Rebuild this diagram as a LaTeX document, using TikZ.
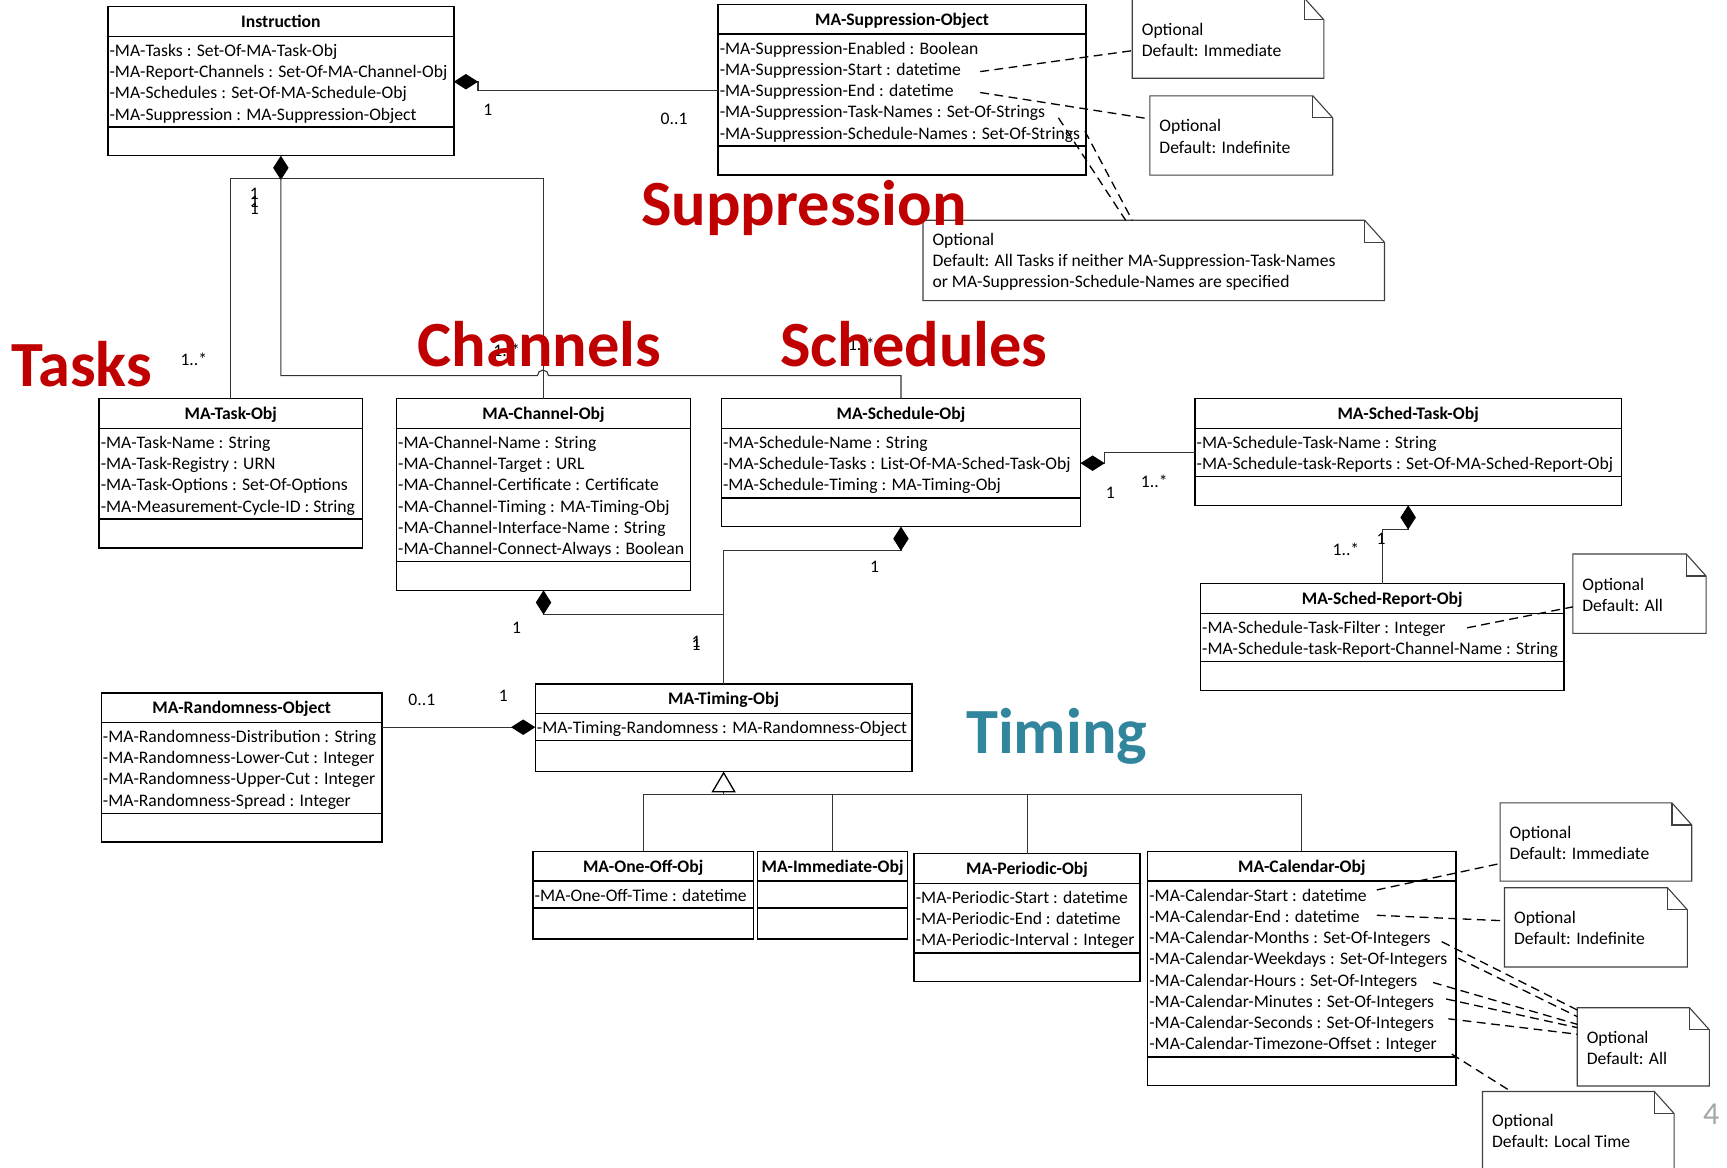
\documentclass[tikz,border=0pt]{standalone}
\usepackage{fontspec}
\setmainfont{Carlito}
\usetikzlibrary{arrows.meta,positioning}
\definecolor{hdr}{HTML}{C00000}
\definecolor{tmg}{HTML}{31859C}
\definecolor{pgn}{HTML}{A6A6A6}
\definecolor{nln}{HTML}{404040}
\newcommand{\clsfont}{\fontsize{16}{19.3}\selectfont}
\newcommand{\bigfont}{\fontsize{58.5}{60}\selectfont\bfseries}
\newcommand{\rows}[1]{\begin{tabular}{@{}l@{}}#1\end{tabular}}
\tikzset{
  clshead/.style={draw,line width=1.3pt,outer sep=0pt,inner sep=0pt,minimum height=27pt,text height=14pt,text depth=3pt,font=\clsfont\bfseries,anchor=north west},
  clsattr/.style={draw,line width=1.3pt,outer sep=0pt,inner xsep=1.5pt,inner ysep=0.6pt,font=\clsfont},
  clsfoot/.style={draw,line width=1.3pt,outer sep=0pt,inner sep=0pt,minimum height=26pt},
  notebox/.style={anchor=north west,inner sep=0pt,outer sep=0pt},
  noteout/.style={draw=nln,line width=1pt},
  notetext/.style={anchor=north west,inner sep=0pt,font=\clsfont},
  mult/.style={font=\clsfont,inner sep=0pt},
  conn/.style={line width=1pt,draw=black!80},
  comp/.style={conn,{Diamond[length=22pt,width=14pt,color=black]}-},
  gen/.style={conn,-{Triangle[open,length=19pt,width=22pt,line width=1.2pt,color=black]}},
  noteln/.style={line width=1.2pt,dash pattern=on 8pt off 5pt},
  lbl/.style={font=\bigfont,text=hdr,anchor=base west,inner sep=0pt},
}
\newcommand{\umlclass}[6][26pt]{%
  \pgfmathsetlengthmacro{\clstw}{#4-3pt}%
  \node[clshead,minimum width=#4] (#2) at (#3) {#5};
  \node[clsattr,minimum width=#4,below=0pt of #2] (#2-a) {\makebox[\clstw][l]{\rows{\rule{0pt}{17.5pt}#6}}};
  \node[clsfoot,minimum width=#4,minimum height=#1,below=0pt of #2-a] (#2-f) {};}
\newcommand{\umlnote}[6]{%
  \node[notebox,minimum width=#3,minimum height=#4] (#1) at (#2) {};
  \draw[noteout] (#1.north west) -- ([xshift=-18pt]#1.north east) -- ([yshift=-20pt]#1.north east)
    -- (#1.south east) -- (#1.south west) -- cycle;
  \draw[noteout] ([xshift=-18pt]#1.north east) |- ([yshift=-20pt]#1.north east);
  \node[notetext] (#1-t) at ([shift={(8.5pt,-#5)}]#1.north west) {\rows{#6}};}

\begin{document}
\begin{tikzpicture}[x=1pt,y=-1pt]
\useasboundingbox[fill=white] (0,0) rectangle (1568,1060);

\umlclass{instr}{98,6}{314pt}{Instruction}{-MA-Tasks : Set-Of-MA-Task-Obj\\-MA-Report-Channels : Set-Of-MA-Channel-Obj\\-MA-Schedules : Set-Of-MA-Schedule-Obj\\-MA-Suppression : MA-Suppression-Object}
\umlclass{sup}{652,4}{334pt}{MA-Suppression-Object}{-MA-Suppression-Enabled : Boolean\\-MA-Suppression-Start : datetime\\-MA-Suppression-End : datetime\\-MA-Suppression-Task-Names : Set-Of-Strings\\-MA-Suppression-Schedule-Names : Set-Of-Strings}
\umlclass{task}{90,362}{239pt}{MA-Task-Obj}{-MA-Task-Name : String\\-MA-Task-Registry : URN\\-MA-Task-Options : Set-Of-Options\\-MA-Measurement-Cycle-ID : String}
\umlclass{chan}{360,362}{267pt}{MA-Channel-Obj}{-MA-Channel-Name : String\\-MA-Channel-Target : URL\\-MA-Channel-Certificate : Certificate\\-MA-Channel-Timing : MA-Timing-Obj\\-MA-Channel-Interface-Name : String\\-MA-Channel-Connect-Always : Boolean}
\umlclass{sched}{655,362}{326pt}{MA-Schedule-Obj}{-MA-Schedule-Name : String\\-MA-Schedule-Tasks : List-Of-MA-Sched-Task-Obj\\-MA-Schedule-Timing : MA-Timing-Obj}
\umlclass{stask}{1085,362}{387pt}{MA-Sched-Task-Obj}{-MA-Schedule-Task-Name : String\\-MA-Schedule-task-Reports : Set-Of-MA-Sched-Report-Obj}
\umlclass{srep}{1090,530}{330pt}{MA-Sched-Report-Obj}{-MA-Schedule-Task-Filter : Integer\\-MA-Schedule-task-Report-Channel-Name : String}
\umlclass[28pt]{timing}{486,621}{342pt}{MA-Timing-Obj}{-MA-Timing-Randomness : MA-Randomness-Object}
\umlclass{rand}{92,629}{255pt}{MA-Randomness-Object}{-MA-Randomness-Distribution : String\\-MA-Randomness-Lower-Cut : Integer\\-MA-Randomness-Upper-Cut : Integer\\-MA-Randomness-Spread : Integer}
\umlclass[28pt]{oneoff}{484,773}{200pt}{MA-One-Off-Obj}{-MA-One-Off-Time : datetime}
\umlclass[28pt]{immed}{688,773}{136pt}{MA-Immediate-Obj}{\mbox{}}
\umlclass{period}{830,775}{205pt}{MA-Periodic-Obj}{-MA-Periodic-Start : datetime\\-MA-Periodic-End : datetime\\-MA-Periodic-Interval : Integer}
\umlclass{cal}{1042,773}{280pt}{MA-Calendar-Obj}{-MA-Calendar-Start : datetime\\-MA-Calendar-End : datetime\\-MA-Calendar-Months : Set-Of-Integers\\-MA-Calendar-Weekdays : Set-Of-Integers\\-MA-Calendar-Hours : Set-Of-Integers\\-MA-Calendar-Minutes : Set-Of-Integers\\-MA-Calendar-Seconds : Set-Of-Integers\\-MA-Calendar-Timezone-Offset : Integer}

\umlnote{nimm}{1028,-2}{174pt}{73pt}{20.5pt}{Optional\\Default: Immediate}
\umlnote{nind}{1044,87}{166pt}{72pt}{19pt}{Optional\\Default: Indefinite}
\umlnote{nall}{838,200}{419pt}{73pt}{9pt}{Optional\\Default: All Tasks if neither MA-Suppression-Task-Names\\or MA-Suppression-Schedule-Names are specified}
\umlnote{nsr}{1428,503}{121pt}{72pt}{19.5pt}{Optional\\Default: All}
\umlnote{ncimm}{1362,729}{174pt}{71pt}{18.5pt}{Optional\\Default: Immediate}
\umlnote{ncind}{1366,806}{166pt}{72pt}{18.5pt}{Optional\\Default: Indefinite}
\umlnote{ncall}{1432,915}{120pt}{71pt}{18.5pt}{Optional\\Default: All}
\umlnote{ncloc}{1346,991}{174pt}{80pt}{18pt}{Optional\\Default: Local Time}

\coordinate (ijoin) at (255,162);
\draw[comp] (instr-f.south) -- (ijoin) -| (task.north);
\draw[conn] (ijoin) -| (chan.north);
\draw[conn] (ijoin) -- (255,341) -- (488,341) arc[start angle=180,end angle=0,radius=5pt] -| (sched.north);
\draw[comp] (instr-a.east) -- ++(22,0) |- (sup-a.west);
\draw[comp] (sched-a.east) -- ++(22,0) |- (stask-a.west);
\draw[comp] (stask-f.south) -- ++(0,22) -| (srep.north);
\draw[comp] (sched-f.south) -- ++(0,22) -| (timing.north);
\draw[comp] (chan-f.south) -- ++(0,22) -| (timing.north);
\draw[comp] (timing-a.west) -- (timing-a.west -| rand-a.east);
\coordinate (gjoin) at (657,721);
\draw[gen] (gjoin) -- (timing-f.south);
\foreach \c in {oneoff,immed,period,cal}
  \draw[conn] (\c.north) |- (gjoin);

\coordinate (sup-st) at (890,65);
\coordinate (sup-en) at (890,84);
\coordinate (sup-tn) at (961,107);
\coordinate (sup-sn) at (985,119);
\draw[noteln] (sup-st) -- ([yshift=-11.5pt]nimm.west);
\draw[noteln] (sup-en) -- ([yshift=15pt]nind.west);
\draw[noteln] (sup-tn) -- ([xshift=184pt]nall.north west);
\draw[noteln] (sup-sn) -- ([xshift=190pt]nall.north west);
\coordinate (srep-tf) at (1332,570);
\draw[noteln] (srep-tf) -- ([yshift=-12pt]nsr.west);
\coordinate (cal-st) at (1250,808);
\coordinate (cal-en) at (1250,831);
\draw[noteln] (cal-st) -- ([yshift=-19.5pt]ncimm.west);
\draw[noteln] (cal-en) -- ([yshift=6pt]ncind.west);
\foreach \n/\sx/\sy/\d in {mon/1309/855/2pt,wkd/1324/870/8pt,hrs/1301/892/15pt,min/1313/907/18pt,sec/1315/925/24pt}{
  \coordinate (cal-\n) at (\sx,\sy);
  \draw[noteln] (cal-\n) -- ([yshift=-\d]ncall.north west);}
\coordinate (cal-tz) at (1318,957);
\draw[noteln] (cal-tz) -- ([xshift=26pt]ncloc.north west);

\node[mult] (m-is1) at (443,100) {1};
\node[mult] (m-is2) at (612,108) {0..1};
\node[mult] (m-in1) at (231,176) {1};
\node[mult] (m-in2) at (231,183) {1};
\node[mult] (m-in3) at (231,190) {1};
\node[mult] (m-tk) at (176,326) {1..*};
\node[mult] (m-ch) at (460,318) {1..*};
\node[mult] (m-sc) at (782,313) {1..*};
\node[mult] (m-st1) at (1008,447) {1};
\node[mult] (m-st2) at (1048,437) {1..*};
\node[mult] (m-sr1) at (1254,489) {1};
\node[mult] (m-sr2) at (1222,499) {1..*};
\node[mult] (m-sct) at (794,515) {1};
\node[mult] (m-cht) at (469,570) {1};
\node[mult] (m-ti1) at (632,583) {1};
\node[mult] (m-ti2) at (632,585) {1};
\node[mult] (m-rn1) at (383,635) {0..1};
\node[mult] (m-rn2) at (457,632) {1};

\node[lbl] (t-sup) at (582,205) {Suppression};
\node[lbl] (t-tsk) at (10,351) {Tasks};
\node[lbl] (t-chn) at (379,333) {Channels};
\node[lbl] (t-sch) at (708,333) {Schedules};
\node[lbl,text=tmg] (t-tim) at (877,684) {Timing};
\node[font=\fontsize{29}{30}\selectfont,text=pgn,anchor=west,inner sep=0pt] (pnum) at (1546,1012) {4};
\end{tikzpicture}
\end{document}
